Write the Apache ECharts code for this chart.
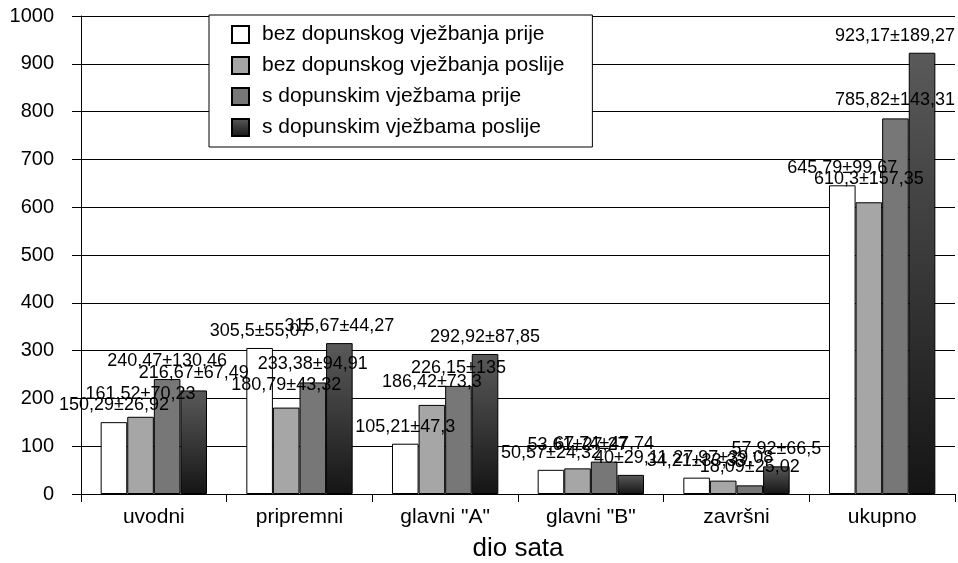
<!DOCTYPE html>
<html>
<head>
<meta charset="utf-8">
<script src="https://cdn.jsdelivr.net/npm/echarts@6/dist/echarts.min.js"></script>
<style>
  html, body { margin: 0; padding: 0; background: #fff; }
  #chart { width: 958px; height: 563px; }
</style>
</head>
<body>
<div id="chart"></div>
<script>
// kategorije (dio sata)
var categories = ['uvodni', 'pripremni', 'glavni "A"', 'glavni "B"', 'završni', 'ukupno']
var seriesNames = [
  'bez dopunskog vježbanja prije',
  'bez dopunskog vježbanja poslije',
  's dopunskim vježbama prije',
  's dopunskim vježbama poslije'
]
// srednje vrijednosti
var bezPrije = [150.29, 305.5, 105.21, 50.57, 34.21, 645.79]
var bezPoslije = [161.52, 180.79, 186.42, 53.61, 27.97, 610.3]
var sPrije = [240.47, 233.38, 226.15, 67.74, 18.09, 785.82]
var sPoslije = [216.67, 315.67, 292.92, 40, 57.92, 923.17]
// standardne devijacije
var bezPrijeSd = [26.92, 55.07, 47.3, 24.32, 33.33, 99.67]
var bezPoslijeSd = [70.23, 43.32, 73.3, 27.27, 39.08, 157.35]
var sPrijeSd = [130.46, 94.91, 135, 47.74, 25.02, 143.31]
var sPoslijeSd = [67.49, 44.27, 87.85, 29.11, 66.5, 189.27]

var font = 'Liberation Sans, Arial, sans-serif'

function fmt(v) {
  return String(v).replace('.', ',')
}

function makeSeries(idx, values, sds, color, dist) {
  return {
    name: seriesNames[idx],
    type: 'bar',
    data: values,
    barGap: 0,
    barCategoryGap: '27%',
    itemStyle: { color: color, borderColor: '#000', borderWidth: 1 },
    label: {
      show: true,
      position: 'top',
      distance: dist,
      color: '#000',
      fontFamily: font,
      fontSize: 18,
      formatter: function (p) {
        return fmt(p.value) + '±' + fmt(sds[p.dataIndex])
      }
    },
    // keep labels inside the chart on the right side
    labelLayout: function (params) {
      var r = params.labelRect
      var over = r.x + r.width - 955
      return over > 0 ? { dx: -over } : {}
    }
  }
}

var gradient = new echarts.graphic.LinearGradient(0, 0, 0, 1, [
  { offset: 0, color: '#5a5a5a' },
  { offset: 1, color: '#151515' }
])

var chart = echarts.init(document.getElementById('chart'))
chart.setOption({
  animation: false,
  backgroundColor: '#fff',
  grid: { left: 81, right: 3, top: 16, bottom: 69, outerBoundsMode: 'none' },
  legend: {
    orient: 'vertical',
    left: 209,
    top: 15,
    padding: [9, 28, 9, 22],
    borderColor: '#000',
    borderWidth: 1,
    backgroundColor: '#fff',
    itemWidth: 17,
    itemHeight: 17,
    itemGap: 10,
    icon: 'rect',
    textStyle: { fontFamily: font, fontSize: 21, color: '#000', padding: [0, 0, 0, 8] },
    data: seriesNames
  },
  xAxis: {
    type: 'category',
    data: categories,
    name: 'dio sata',
    nameLocation: 'middle',
    nameGap: 42,
    nameTextStyle: { fontFamily: font, fontSize: 26, color: '#000' },
    axisLine: { lineStyle: { color: '#000', width: 1 } },
    axisTick: { show: true, length: 8, lineStyle: { color: '#000' } },
    axisLabel: { fontFamily: font, fontSize: 21, color: '#000', margin: 13 }
  },
  yAxis: {
    type: 'value',
    min: 0,
    max: 1000,
    interval: 100,
    axisLine: { show: true, lineStyle: { color: '#000', width: 1 } },
    axisTick: { show: true, length: 9, lineStyle: { color: '#000' } },
    axisLabel: {
      fontFamily: font, fontSize: 20, color: '#000', margin: 27,
      formatter: function (v) { return String(v) }
    },
    splitLine: { lineStyle: { color: '#000', width: 1 } }
  },
  series: [
    makeSeries(0, bezPrije, bezPrijeSd, '#ffffff', 8),
    makeSeries(1, bezPoslije, bezPoslijeSd, '#a6a6a6', 14),
    makeSeries(2, sPrije, sPrijeSd, '#777777', 9),
    makeSeries(3, sPoslije, sPoslijeSd, gradient, 8)
  ]
})
</script>
</body>
</html>
